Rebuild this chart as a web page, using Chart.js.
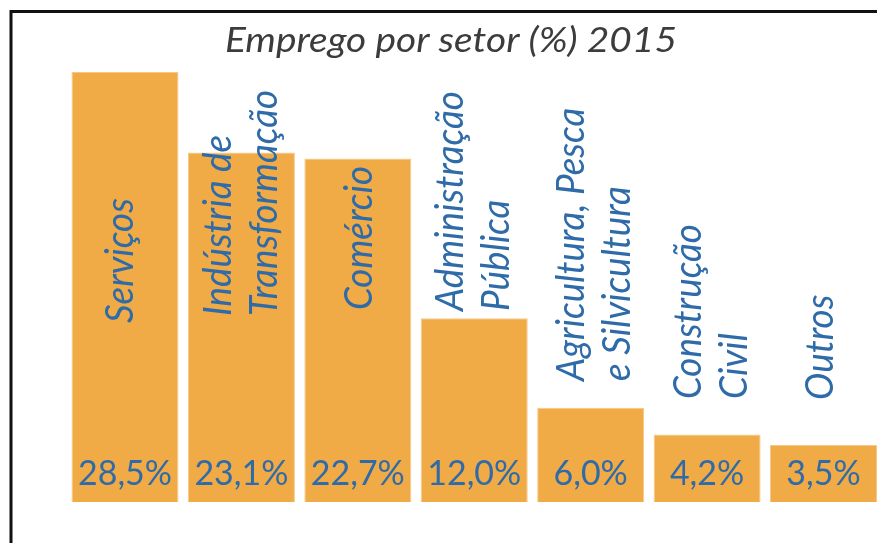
<!DOCTYPE html>
<html>
<head>
<meta charset="utf-8">
<script src="https://cdn.jsdelivr.net/npm/chart.js@4"></script>
<style>
  html, body { margin: 0; padding: 0; background: #fff; overflow: hidden; width: 877px; height: 543px; }
  #wrap { position: relative; width: 877px; height: 543px; overflow: hidden; }
  canvas { display: block; }
</style>
</head>
<body>
<div id="wrap"><canvas id="c" width="882" height="543"></canvas></div>
<script>
// ---- data ----
const title = "Emprego por setor (%) 2015";
const categories = [
  ["Serviços"],
  ["Indústria de", "Transformação"],
  ["Comércio"],
  ["Administração", "Pública"],
  ["Agricultura, Pesca", "e Silvicultura"],
  ["Construção", "Civil"],
  ["Outros"]
];
const values = [28.5, 23.1, 22.7, 12.0, 6.0, 4.2, 3.5];
const valueLabels = values.map(v => v.toFixed(1).replace('.', ',') + '%');

// ---- layout / style (not data) ----
const labelDx = [8, -10, 14, -11.5, -7, -6, 9.5];       // baseline offset from bar centre
const labelBottom = [323, 316, 310, 311, 381, 399, 400]; // screen y where text starts
const LINE_GAP = 46;
const BAR_COLOR = '#F0AA46';
const TEXT_BLUE = '#2E6BA8';
const FONT = 'Lato, "Open Sans", sans-serif';

const overlay = {
  id: 'overlay',
  afterDatasetsDraw(chart) {
    const ctx = chart.ctx;
    const meta = chart.getDatasetMeta(0);
    ctx.save();
    // frame
    ctx.strokeStyle = '#111';
    ctx.lineWidth = 3;
    ctx.beginPath();
    ctx.moveTo(11, 560);
    ctx.lineTo(11, 11.5);
    ctx.lineTo(900, 11.5);
    ctx.stroke();

    // title
    ctx.fillStyle = '#3c3c3c';
    ctx.font = 'italic 35px ' + FONT;
    ctx.textBaseline = 'alphabetic';
    ctx.textAlign = 'left';
    let tw = ctx.measureText(title).width;
    let tsx = 452 / tw;
    ctx.save();
    ctx.translate(225, 52);
    ctx.scale(tsx, 1);
    ctx.fillText(title, 0, 0);
    ctx.restore();

    // category labels (rotated)
    ctx.fillStyle = TEXT_BLUE;
    ctx.font = 'italic 38px ' + FONT;
    const lsx = 226 / ctx.measureText("Transformação").width;
    meta.data.forEach((bar, i) => {
      const lines = categories[i];
      lines.forEach((line, j) => {
        ctx.save();
        ctx.translate(bar.x + labelDx[i] + j * LINE_GAP, labelBottom[i]);
        ctx.rotate(-Math.PI / 2);
        ctx.scale(lsx, 1);
        ctx.textAlign = 'left';
        ctx.fillText(line, 0, 0);
        ctx.restore();
      });
    });

    // value labels
    ctx.font = '35px ' + FONT;
    const vsx = 94 / ctx.measureText("28,5%").width;
    meta.data.forEach((bar, i) => {
      ctx.save();
      ctx.translate(bar.x, 485);
      ctx.scale(vsx, 1);
      ctx.textAlign = 'center';
      ctx.fillText(valueLabels[i], 0, 0);
      ctx.restore();
    });
    ctx.restore();
  }
};

new Chart(document.getElementById('c'), {
  type: 'bar',
  data: {
    labels: categories.map(c => c.join(' ')),
    datasets: [{
      data: values,
      base: -0.32,
      backgroundColor: BAR_COLOR,
      borderColor: '#F6C888',
      borderWidth: 1,
      categoryPercentage: 1,
      barPercentage: 0.919
    }]
  },
  options: {
    responsive: false,
    animation: false,
    layout: { padding: { left: 66.8, right: 0.3, top: 49.6, bottom: 30.9 } },
    plugins: { legend: { display: false }, tooltip: { enabled: false }, title: { display: false } },
    scales: {
      x: { display: false, offset: true },
      y: { display: false, min: -1, max: 30 }
    }
  },
  plugins: [overlay]
});
</script>
</body>
</html>
